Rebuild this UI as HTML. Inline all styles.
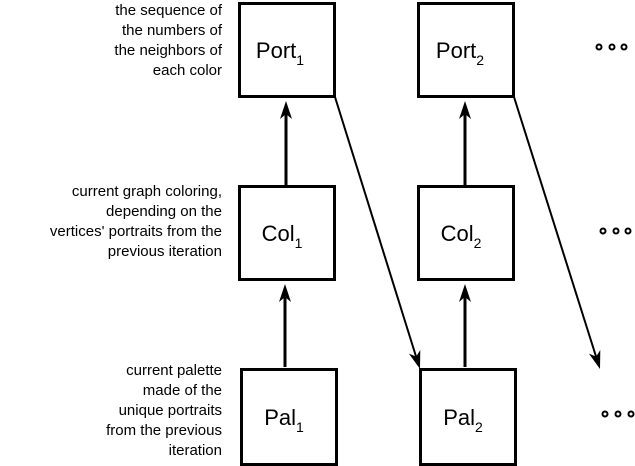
<!DOCTYPE html>
<html><head><style>
html,body{margin:0;padding:0;background:#fff;}
svg{display:block;}
text{font-family:"Liberation Sans",Arial,sans-serif;fill:#000;}
.l{font-size:15px;text-anchor:end;}
.b{font-size:22px;text-anchor:middle;}
.s{font-size:14px;}
</style></head><body>
<svg width="635" height="466" viewBox="0 0 635 466" xmlns="http://www.w3.org/2000/svg">
<g fill="none" stroke="#000" stroke-width="3">
<rect x="239.5" y="3.5" width="95" height="93"/>
<rect x="418.5" y="3.5" width="95" height="93"/>
<rect x="239.5" y="186.5" width="95" height="93"/>
<rect x="418.5" y="186.5" width="95" height="93"/>
<rect x="241.5" y="369.5" width="95" height="95"/>
<rect x="420.5" y="369.5" width="95" height="95"/>
</g>
<g stroke="#000" stroke-width="3">
<line x1="286" y1="185" x2="286" y2="112"/>
<line x1="465" y1="185" x2="465" y2="112"/>
<line x1="285" y1="367" x2="285" y2="295"/>
<line x1="465" y1="367" x2="465" y2="295"/>
</g>
<g fill="#000">
<polygon points="286,101 280,119 286,114 292,119"/>
<polygon points="465,101 459,119 465,114 471,119"/>
<polygon points="285,284 279,302 285,297 291,302"/>
<polygon points="465,284 459,302 465,297 471,302"/>
<polygon points="420,369 420.3,350 416.1,356.6 408.9,353.6"/>
<polygon points="600,369 600.3,350 596.1,356.6 588.9,353.6"/>
</g>
<g stroke="#000" stroke-width="2">
<line x1="335" y1="97" x2="416.5" y2="358"/>
<line x1="514" y1="97" x2="596.5" y2="358"/>
</g>
<text class="b" x="280" y="58">Port<tspan class="s" dy="7">1</tspan></text>
<text class="b" x="460" y="58">Port<tspan class="s" dy="7">2</tspan></text>
<text class="b" x="282" y="241">Col<tspan class="s" dy="7">1</tspan></text>
<text class="b" x="461" y="241">Col<tspan class="s" dy="7">2</tspan></text>
<text class="b" x="284" y="425">Pal<tspan class="s" dy="7">1</tspan></text>
<text class="b" x="463" y="425">Pal<tspan class="s" dy="7">2</tspan></text>
<text class="l" x="222" y="15">the sequence of</text>
<text class="l" x="222" y="35">the numbers of</text>
<text class="l" x="222" y="55">the neighbors of</text>
<text class="l" x="222" y="75">each color</text>
<text class="l" x="222" y="196">current graph coloring,</text>
<text class="l" x="222" y="216">depending on the</text>
<text class="l" x="222" y="236">vertices' portraits from the</text>
<text class="l" x="222" y="256">previous iteration</text>
<text class="l" x="222" y="375">current palette</text>
<text class="l" x="222" y="395">made of the</text>
<text class="l" x="222" y="415">unique portraits</text>
<text class="l" x="222" y="435">from the previous</text>
<text class="l" x="222" y="455">iteration</text>
<g fill="none" stroke="#000" stroke-width="2">
<circle cx="599" cy="47" r="2.5"/><circle cx="612" cy="47" r="2.5"/><circle cx="624" cy="47" r="2.5"/>
<circle cx="603" cy="231" r="2.5"/><circle cx="616" cy="231" r="2.5"/><circle cx="628" cy="231" r="2.5"/>
<circle cx="605" cy="414" r="2.5"/><circle cx="618" cy="414" r="2.5"/><circle cx="631" cy="414" r="2.5"/>
</g>
</svg>
</body></html>
